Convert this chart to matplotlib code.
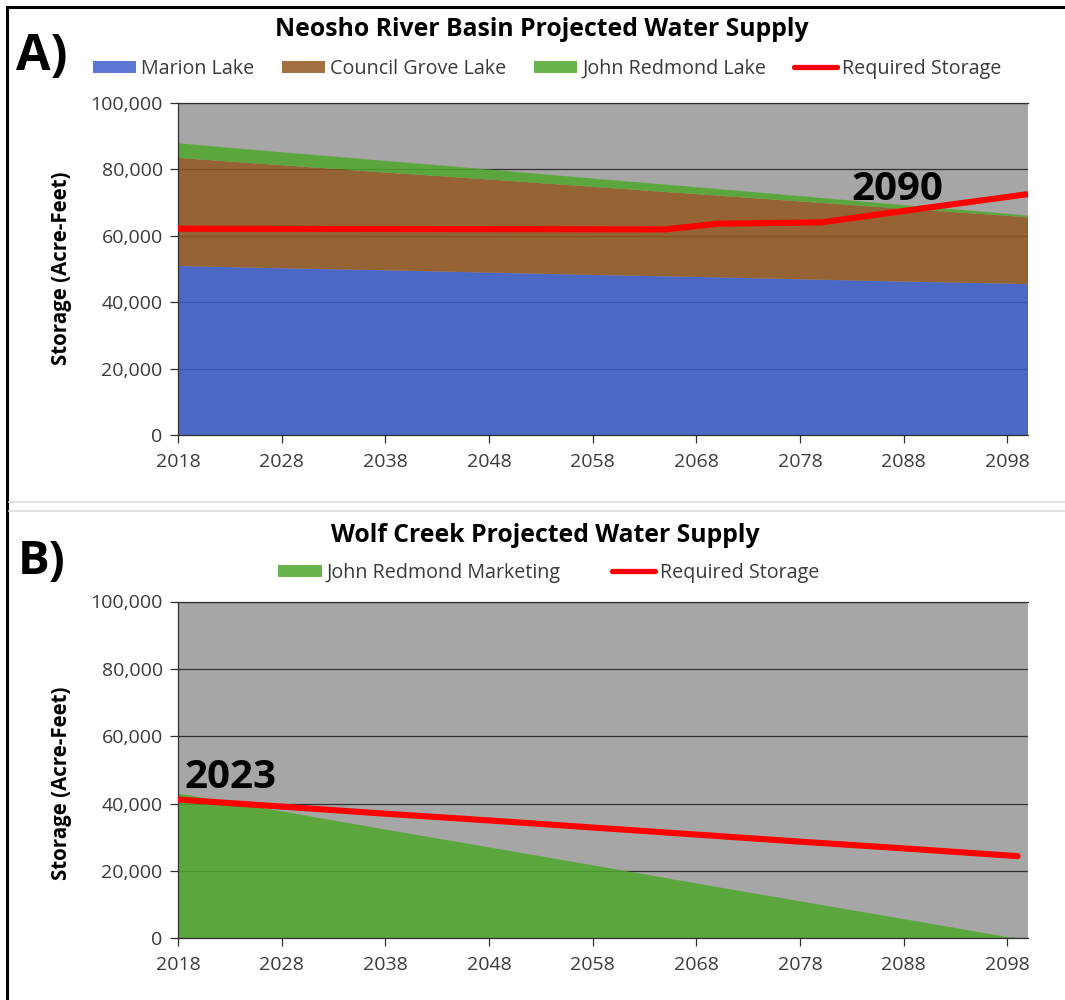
import matplotlib
matplotlib.use("Agg")
import matplotlib.pyplot as plt
from matplotlib.patches import Patch
from matplotlib.lines import Line2D
from matplotlib.ticker import FuncFormatter

plt.rcParams["font.family"] = ["Open Sans", "DejaVu Sans"]

# ---- Panel A: Neosho River Basin (acre-feet) ----
years_a = [2018, 2028, 2038, 2048, 2058, 2068, 2078, 2088, 2098, 2100]
marion_lake = [50900, 50200, 49600, 48900, 48200, 47600, 46900, 46200, 45600, 45400]
council_grove_lake = [32500, 31000, 29400, 28000, 26500, 24900, 23400, 21900, 20400, 20100]
john_redmond_lake = [4400, 3900, 3500, 3000, 2500, 2100, 1600, 1100, 600, 500]

req_years_a = [2018, 2065, 2070, 2080, 2090, 2100]
required_a = [62100, 61900, 63600, 64000, 68300, 72500]

# ---- Panel B: Wolf Creek (acre-feet) ----
years_b = [2018, 2028, 2038, 2048, 2058, 2068, 2078, 2088, 2098, 2099]
john_redmond_marketing = [43000, 37700, 32300, 27000, 21700, 16300, 11000, 5700, 400, 0]
required_b = [41200, 39100, 37000, 35000, 32900, 30800, 28700, 26700, 24600, 24400]

x_ticks = [2018, 2028, 2038, 2048, 2058, 2068, 2078, 2088, 2098]
y_ticks = [0, 20000, 40000, 60000, 80000, 100000]

BLUE = "#3e5fcc"
BROWN = "#925820"
GREEN = "#4ea82c"
RED = "#ff0000"
PLOT_BG = "#a6a6a6"
GRID = "#303030"
TXT = "#3a3a3a"
ALPHA = 0.85

W, H = 1065, 1000
fig = plt.figure(figsize=(W / 100, H / 100), dpi=100)


def px_axes(left, top, right, bottom):
    return fig.add_axes([left / W, 1 - bottom / H, (right - left) / W, (bottom - top) / H])


def style_axes(ax):
    ax.set_facecolor(PLOT_BG)
    ax.set_xlim(2018, 2100)
    ax.set_ylim(0, 100000)
    ax.set_xticks(x_ticks)
    ax.set_yticks(y_ticks)
    ax.yaxis.set_major_formatter(FuncFormatter(lambda v, p: f"{int(v):,}"))
    ax.set_axisbelow(True)
    ax.yaxis.grid(True, color=GRID, linewidth=0.9)
    ax.tick_params(axis="both", direction="out", length=6, width=0.9,
                   color=GRID, labelsize=14, labelcolor=TXT, pad=5)
    ax.tick_params(axis="x", pad=7)
    ax.spines["right"].set_visible(False)
    ax.spines["top"].set_color(GRID)
    ax.spines["top"].set_linewidth(0.9)
    for s in ("left", "bottom"):
        ax.spines[s].set_color(GRID)
        ax.spines[s].set_linewidth(0.9)


# Panel A
ax1 = px_axes(178, 102.7, 1028, 435.2)
style_axes(ax1)
ax1.stackplot(years_a, marion_lake, council_grove_lake, john_redmond_lake,
              colors=[BLUE, BROWN, GREEN], alpha=ALPHA, zorder=2, linewidth=0)
ax1.plot(req_years_a, required_a, color=RED, linewidth=4.4, zorder=4,
         solid_capstyle="butt", solid_joinstyle="round")
ax1.text(2087.4, 73800, "2090", fontsize=29, fontweight="bold", color="black",
         ha="center", va="center", zorder=5)

# Panel B
ax2 = px_axes(178, 601.5, 1028, 938.3)
style_axes(ax2)
ax2.stackplot(years_b, john_redmond_marketing, colors=[GREEN], alpha=ALPHA,
              zorder=2, linewidth=0)
ax2.plot(years_b, required_b, color=RED, linewidth=4.4, zorder=4,
         solid_capstyle="round", solid_joinstyle="round")
ax2.text(2018.6, 47600, "2023", fontsize=29, fontweight="bold", color="black",
         ha="left", va="center", zorder=5)

# Titles, panel letters and axis labels
fig.text(542 / W, 1 - 30 / H, "Neosho River Basin Projected Water Supply",
         fontsize=17.8, fontweight="bold", ha="center", va="center")
fig.text(545 / W, 1 - 535 / H, "Wolf Creek Projected Water Supply",
         fontsize=17.8, fontweight="bold", ha="center", va="center")
fig.text(42 / W, 1 - 57 / H, "A)", fontsize=36, fontweight="bold",
         ha="center", va="center")
fig.text(42 / W, 1 - 562 / H, "B)", fontsize=34, fontweight="bold",
         ha="center", va="center")
fig.text(62 / W, 1 - 268 / H, "Storage (Acre-Feet)", fontsize=14.8,
         fontweight="bold", rotation=90, ha="center", va="center")
fig.text(62 / W, 1 - 783 / H, "Storage (Acre-Feet)", fontsize=14.8,
         fontweight="bold", rotation=90, ha="center", va="center")


def red_handle():
    return Line2D([], [], color=RED, linewidth=3.8, solid_capstyle="round")


leg_kw = dict(loc="center", frameon=False, ncol=4, fontsize=14.2,
              handlelength=2.2, handleheight=0.57, handletextpad=0.25,
              columnspacing=1.4, borderpad=0, labelcolor=TXT)

fig.legend([Patch(facecolor=BLUE, alpha=ALPHA), Patch(facecolor=BROWN, alpha=ALPHA),
            Patch(facecolor=GREEN, alpha=ALPHA), red_handle()],
           ["Marion Lake", "Council Grove Lake", "John Redmond Lake", "Required Storage"],
           bbox_to_anchor=(547 / W, 1 - 69 / H), **leg_kw)
leg_kw["ncol"] = 2
leg_kw["columnspacing"] = 2.6
fig.legend([Patch(facecolor=GREEN, alpha=ALPHA), red_handle()],
           ["John Redmond Marketing", "Required Storage"],
           bbox_to_anchor=(549 / W, 1 - 573 / H), **leg_kw)

# Outer frame and separator between the two charts
fig.add_artist(Line2D([7 / W, 7 / W], [0, 1 - 7 / H], color="black", linewidth=2.2))
fig.add_artist(Line2D([7 / W, 1], [1 - 7 / H, 1 - 7 / H], color="black", linewidth=2.2))
for yy in (502, 511):
    fig.add_artist(Line2D([9 / W, 1], [1 - yy / H, 1 - yy / H], color="#dcdcdc", linewidth=1.2))

fig.savefig("out.png", dpi=100, facecolor="white")
